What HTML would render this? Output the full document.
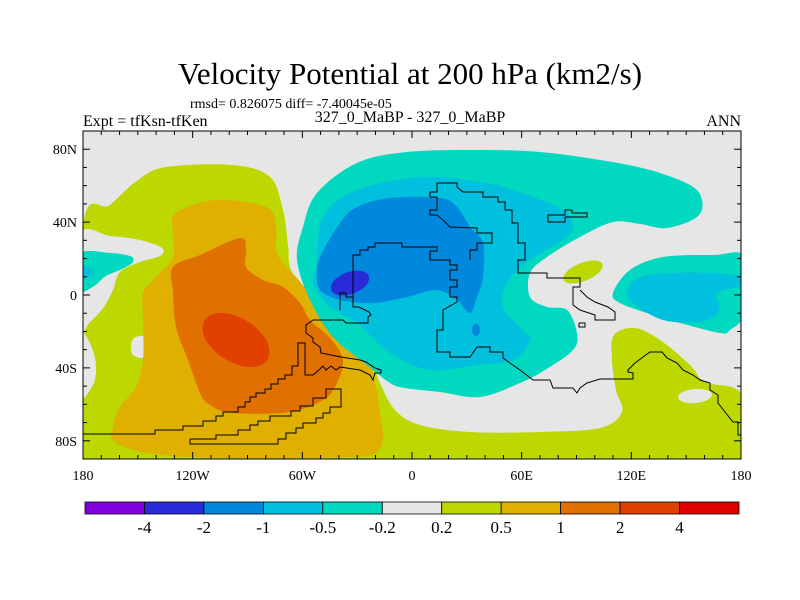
<!DOCTYPE html>
<html><head><meta charset="utf-8">
<style>
html,body{margin:0;padding:0;background:#fff;}
svg{display:block;}
text{font-family:"Liberation Serif",serif;fill:#000;}
</style></head>
<body>
<svg id="chart" width="800" height="600" viewBox="0 0 800 600" xmlns="http://www.w3.org/2000/svg">
<defs><clipPath id="plotclip"><rect x="83" y="131" width="658" height="328"/></clipPath></defs>
<text x="410" y="84" font-size="31" text-anchor="middle">Velocity Potential at 200 hPa (km2/s)</text>
<text x="190" y="108" font-size="14">rmsd= 0.826075 diff= -7.40045e-05</text>
<text x="83" y="126" font-size="16">Expt = tfKsn-tfKen</text>
<text x="410" y="122" font-size="16" text-anchor="middle">327_0_MaBP - 327_0_MaBP</text>
<text x="741" y="126" font-size="16" text-anchor="end">ANN</text>
<g id="plot" clip-path="url(#plotclip)">
<rect x="83" y="131" width="658" height="328" fill="#e6e6e6"/>
<g id="fills"></g>
<g id="coasts" fill="none" stroke="#000" stroke-width="1"></g>
</g>
<rect x="83" y="131" width="658" height="328" fill="none" stroke="#000" stroke-width="1"/>
<g id="axes"></g>
<g id="colorbar"></g>
</svg>
<script>
// colorbar data
const levelLabels = ["-4","-2","-1","-0.5","-0.2","0.2","0.5","1","2","4"];
const levelColors = ["#7f00dd","#2a2ad8","#0088dd","#00c0dd","#00d8c0","#e6e6e6","#bcd800","#e0b000","#e07000","#e04000","#e00000"];
// axis data
const lonTicks = [-180,-120,-60,0,60,120,180];
const lonLabels = ["180","120W","60W","0","60E","120E","180"];
const latTicks = [80,40,0,-40,-80];
const latLabels = ["80N","40N","0","40S","80S"];

const X0=83, X1=741, Y0=131, Y1=459;
function xLon(lon){return X0+(lon+180)*(X1-X0)/360;}
function yLat(lat){return Y0+(90-lat)*(Y1-Y0)/180;}
const NS="http://www.w3.org/2000/svg";
function mk(tag,attrs,parent){const e=document.createElementNS(NS,tag);for(const k in attrs)e.setAttribute(k,attrs[k]);parent.appendChild(e);return e;}

// contour regions (pixel outlines), drawn in order
const contourShapes = [
 {name:"green-west-south",c:6,pts:[[83,228],[110,205],[138,180],[166,167],[233,165],[270,177],[283,210],[288,245],[292,272],[317,305],[350,330],[370,357],[380,383],[395,410],[420,425],[470,432],[540,432],[600,428],[622,412],[616,390],[612,360],[614,335],[635,328],[660,340],[690,365],[705,382],[742,395],[742,459],[83,459]]},
 {name:"gray-west-hole",c:5,pts:[[80,236],[110,236],[140,240],[162,248],[160,256],[140,262],[120,272],[113,290],[104,307],[90,322],[80,328]]},
 {name:"teal-west-blob",c:4,pts:[[80,254],[110,253],[130,256],[133,262],[122,269],[106,276],[94,286],[80,290]]},
 {name:"cyan-west-blob",c:3,pts:[[80,267],[90,268],[94,273],[88,277],[80,278]]},
 {name:"gray-west-edge",c:5,pts:[[80,335],[90,343],[96,365],[93,385],[80,396]]},
 {name:"gray-hole-circle",c:5,pts:[[131,347],[134,338],[145,336],[155,343],[153,354],[142,358],[133,355]]},
 {name:"orange-west",c:7,pts:[[176,213],[216,200],[266,207],[276,227],[276,250],[283,263],[296,277],[316,300],[340,320],[356,340],[370,360],[376,387],[380,413],[383,437],[376,453],[350,457],[250,458],[160,455],[116,443],[113,427],[120,407],[136,387],[143,360],[143,320],[143,293],[156,277],[173,257],[173,233]]},
 {name:"darkorange-west",c:8,pts:[[173,267],[200,255],[240,238],[246,250],[246,267],[263,280],[283,287],[300,303],[310,320],[330,338],[343,360],[336,385],[323,400],[290,412],[233,413],[210,405],[200,393],[188,360],[176,327],[173,293]]},
 {name:"teal-main",c:4,pts:[[297,260],[303,227],[317,193],[357,163],[407,152],[480,150],[540,152],[600,160],[650,170],[690,185],[702,200],[697,217],[667,228],[640,224],[613,222],[580,237],[547,257],[530,273],[530,297],[547,307],[567,310],[577,333],[573,350],[545,370],[520,383],[480,397],[440,392],[405,388],[390,383],[367,365],[333,337],[310,300]]},
 {name:"teal-east",c:4,pts:[[613,293],[630,270],[663,257],[713,255],[745,257],[745,312],[730,330],[720,333],[680,323],[647,313],[620,303]]},
 {name:"cyan-east",c:3,pts:[[627,290],[640,277],[667,273],[713,273],[745,277],[745,285],[717,293],[720,307],[713,317],[697,322],[663,320],[633,303]]},
 {name:"cyan-main",c:3,pts:[[317,263],[323,217],[357,190],[423,177],[480,182],[513,190],[563,210],[573,227],[563,240],[530,260],[507,283],[503,307],[523,330],[530,340],[513,360],[477,365],[430,370],[390,353],[357,323],[330,307],[314,285]]},
 {name:"blue-main",c:2,pts:[[320,257],[340,223],[357,207],[390,198],[440,198],[457,207],[470,227],[483,243],[483,277],[477,297],[470,313],[457,300],[437,290],[407,297],[373,303],[340,300],[320,290],[317,273]]}
];
const contourEllipses = [
 {name:"red-west-max",c:9,cx:236,cy:340,rx:37,ry:22,rot:32},
 {name:"darkblue-min",c:1,cx:350,cy:283,rx:20,ry:11,rot:-20},
 {name:"blue-small-dot",c:2,cx:476,cy:330,rx:4,ry:6,rot:0},
 {name:"green-east-blob",c:6,cx:583,cy:272,rx:21,ry:9,rot:-22},
 {name:"gray-east-hole",c:5,cx:695,cy:396,rx:17,ry:7,rot:-5}
];
function smoothPath(p){
 const n=p.length;let d="M"+p[0][0]+","+p[0][1];
 for(let i=0;i<n;i++){
  const p0=p[(i-1+n)%n],p1=p[i],p2=p[(i+1)%n],p3=p[(i+2)%n];
  const c1=[p1[0]+(p2[0]-p0[0])/6,p1[1]+(p2[1]-p0[1])/6];
  const c2=[p2[0]-(p3[0]-p1[0])/6,p2[1]-(p3[1]-p1[1])/6];
  d+="C"+c1[0].toFixed(1)+","+c1[1].toFixed(1)+" "+c2[0].toFixed(1)+","+c2[1].toFixed(1)+" "+p2[0]+","+p2[1];
 }
 return d+"Z";
}
const fills=document.getElementById("fills");
contourShapes.forEach(s=>{
 const e=mk("path",{d:smoothPath(s.pts),fill:levelColors[s.c]},fills);
 
 
});
contourEllipses.forEach(s=>{
 const e=mk("ellipse",{cx:s.cx,cy:s.cy,rx:s.rx,ry:s.ry,transform:`rotate(${s.rot} ${s.cx} ${s.cy})`,fill:levelColors[s.c]},fills);
 
 
});

// coastlines
const coastLines = [
 [[353,297],[353,255],[360,255],[360,250],[368,250],[368,247],[375,247],[375,243],[402,243],[402,247],[437,247],[437,251],[430,251],[430,260],[450,260],[450,265],[457,265],[457,270],[450,270],[450,280],[457,280],[457,287],[450,287],[450,297],[457,297],[457,302],[443,310],[443,330],[437,330],[437,352],[450,352],[450,357],[470,357],[477,347],[490,347],[490,352],[503,352],[503,358],[510,363],[520,370],[533,380],[550,380],[553,388],[573,388],[577,393],[580,388],[587,383],[600,379],[633,379],[633,373],[628,372],[628,370],[635,363],[643,357],[650,352],[662,352],[667,358],[677,363],[683,370],[693,375],[700,380],[710,383],[710,390],[718,395],[718,403],[725,412],[733,422],[738,422],[738,435],[742,435]],
 [[430,197],[430,192],[437,192],[437,183],[457,183],[457,187],[463,192],[483,192],[483,197],[498,197],[498,202],[505,202],[505,210],[512,210],[512,223],[518,223],[518,243],[525,243],[525,260],[518,260],[518,273],[547,273],[547,278],[580,278],[580,287],[573,287],[573,305],[580,310],[595,315],[595,320],[615,320],[615,312],[608,307],[595,302],[587,297],[580,290]],
 [[430,197],[437,197],[437,210],[430,210],[430,215],[437,215],[443,220],[450,227],[477,228],[477,233],[492,233],[492,243],[477,243],[477,250],[470,250],[470,260]],
 [[548,222],[548,215],[565,215],[565,210],[572,210],[572,213],[587,213],[587,217],[565,217],[565,222],[548,222]],
 [[83,434],[155,434],[155,430],[183,430],[183,426],[203,426],[203,421],[216,421],[216,416],[223,416],[223,412],[238,412],[238,407],[245,407],[245,402],[250,402],[250,397],[256,397],[256,393],[265,393],[265,389],[271,389],[271,384],[278,384],[278,379],[285,379],[285,375],[292,375],[292,366],[298,366],[298,343],[305,343],[305,375],[313,375],[320,369],[323,366],[326,370],[331,366],[336,370],[340,367],[360,370],[370,375],[373,380],[375,373],[381,373],[381,370],[375,368],[366,362],[360,360],[341,357],[321,353],[320,347],[313,342],[313,338],[306,333],[306,325],[313,320],[343,320],[346,323],[368,323],[368,317],[371,315],[369,312],[359,307],[353,307],[353,297],[346,297],[346,293],[340,293],[340,310]],
 [[190,439],[216,439],[216,435],[238,435],[238,430],[250,430],[250,425],[258,425],[258,421],[270,421],[270,416],[291,416],[291,411],[300,411],[300,406],[313,406],[313,398],[326,398],[326,389],[341,389],[341,407],[330,407],[330,413],[323,413],[323,418],[316,418],[316,423],[303,423],[303,428],[296,428],[296,433],[286,433],[286,439],[278,439],[278,444],[190,444],[190,439]],
 [[579,323],[585,323],[585,327],[579,327],[579,323]]
];
const coasts=document.getElementById("coasts");
coastLines.forEach((l,i)=>{
 const e=mk("polyline",{points:l.map(p=>p.join(",")).join(" ")},coasts);
 
 
});

// axes
const axes=document.getElementById("axes");
for(let lon=-180;lon<=180;lon+=10){
 const major=lonTicks.includes(lon);const L=major?7:4;const x=xLon(lon);
 const t1=mk("line",{x1:x,x2:x,y1:Y1,y2:Y1-L,stroke:"#000"},axes);
 
 
 const t2=mk("line",{x1:x,x2:x,y1:Y0,y2:Y0+L,stroke:"#000"},axes);
 
 
}
for(let lat=-90;lat<=90;lat+=10){
 const major=latTicks.includes(lat);const L=major?7:4;const y=yLat(lat);
 const t1=mk("line",{x1:X0,x2:X0+L,y1:y,y2:y,stroke:"#000"},axes);
 
 
 const t2=mk("line",{x1:X1,x2:X1-L,y1:y,y2:y,stroke:"#000"},axes);
 
 
}
lonTicks.forEach((lon,i)=>{
 const t=mk("text",{x:xLon(lon),y:480,"font-size":"14","text-anchor":"middle"},axes);
 t.textContent=lonLabels[i];
 
 
});
latTicks.forEach((lat,i)=>{
 const t=mk("text",{x:77,y:yLat(lat)+5,"font-size":"14","text-anchor":"end"},axes);
 t.textContent=latLabels[i];
 
 
});

// colorbar
const cb=document.getElementById("colorbar");
const cbX=85,cbW=654,cbY=502,cbH=12,bw=cbW/levelColors.length;
levelColors.forEach((c,i)=>{
 const r=mk("rect",{x:cbX+i*bw,y:cbY,width:bw,height:cbH,fill:c,stroke:"#000","stroke-width":"0.8"},cb);
 
 
});
levelLabels.forEach((s,i)=>{
 const t=mk("text",{x:cbX+(i+1)*bw,y:533,"font-size":"17","text-anchor":"middle"},cb);
 t.textContent=s;
 
 
});
</script>
</body></html>
